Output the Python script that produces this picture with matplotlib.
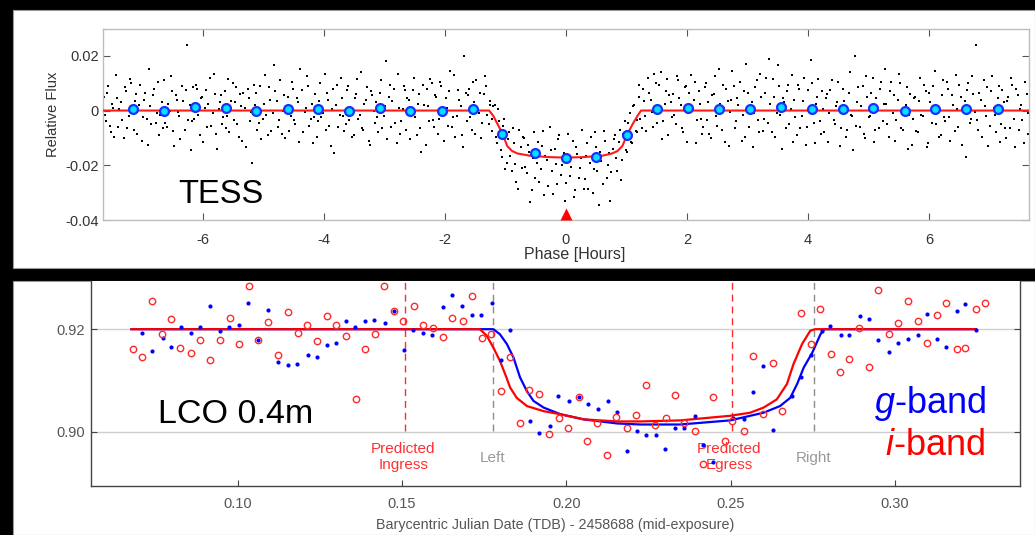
import matplotlib
matplotlib.use('Agg')
import matplotlib.pyplot as plt
import numpy as np
from matplotlib.patches import Rectangle

plt.rcParams['font.family'] = ['Liberation Sans', 'DejaVu Sans']
plt.rcParams['mathtext.fontset'] = 'custom'
plt.rcParams['mathtext.it'] = 'Liberation Sans:italic'
plt.rcParams['mathtext.rm'] = 'Liberation Sans'

# ---------------- TESS panel data ----------------
tess_phase = [
 -7.64,-7.60,-7.56,-7.52,-7.48,-7.44,-7.40,-7.35,-7.31,-7.27,-7.22,-7.18,
 -7.14,-7.10,-7.06,-7.01,-6.97,-6.93,-6.89,-6.85,-6.80,-6.76,-6.72,-6.68,
 -6.64,-6.60,-6.55,-6.51,-6.47,-6.43,-6.39,-6.34,-6.30,-6.26,-6.22,-6.18,
 -6.14,-6.10,-6.05,-6.01,-5.97,-5.93,-5.89,-5.84,-5.80,-5.76,-5.72,-5.68,
 -5.64,-5.60,-5.56,-5.51,-5.47,-5.43,-5.39,-5.35,-5.30,-5.26,-5.22,-5.18,
 -5.14,-5.10,-5.06,-5.01,-4.97,-4.93,-4.89,-4.84,-4.80,-4.76,-4.72,-4.68,
 -4.64,-4.60,-4.55,-4.51,-4.47,-4.43,-4.39,-4.34,-4.30,-4.26,-4.22,-4.18,
 -4.14,-4.10,-4.06,-4.01,-3.97,-3.93,-3.89,-3.85,-3.80,-3.76,-3.72,-3.68,
 -3.64,-3.60,-3.56,-3.51,-3.47,-3.43,-3.39,-3.35,-3.30,-3.26,-3.22,-3.18,
 -3.14,-3.10,-3.06,-3.01,-2.97,-2.93,-2.89,-2.84,-2.80,-2.76,-2.72,-2.68,
 -2.64,-2.60,-2.55,-2.51,-2.47,-2.43,-2.39,-2.34,-2.30,-2.26,-2.22,-2.18,
 -2.14,-2.10,-2.06,-2.01,-1.97,-1.93,-1.89,-1.85,-1.80,-1.76,-1.72,-1.68,
 -1.64,-1.60,-1.56,-1.52,-1.48,-1.44,-1.40,-1.36,-1.32,-1.28,-1.25,-1.22,
 -1.18,-1.14,-1.10,-1.06,-1.02,-0.98,-0.94,-0.90,-0.86,-0.82,-0.77,-0.73,
 -0.69,-0.65,-0.61,-0.57,-0.53,-0.48,-0.44,-0.40,-0.36,-0.31,-0.27,-0.23,
 -0.19,-0.15,-0.11,-0.06,-0.02,0.02,0.06,0.11,0.15,0.19,0.23,0.27,
 0.31,0.35,0.39,0.44,0.48,0.52,0.56,0.61,0.65,0.69,0.73,0.77,
 0.81,0.85,0.89,0.93,0.97,1.01,1.05,1.09,1.13,1.17,1.20,1.23,
 1.27,1.31,1.35,1.40,1.44,1.48,1.52,1.57,1.61,1.65,1.69,1.73,
 1.77,1.81,1.85,1.90,1.94,1.98,2.02,2.07,2.11,2.15,2.19,2.23,
 2.27,2.31,2.35,2.40,2.44,2.48,2.52,2.57,2.61,2.65,2.69,2.73,
 2.77,2.81,2.85,2.90,2.94,2.98,3.02,3.07,3.11,3.15,3.19,3.23,
 3.27,3.31,3.35,3.40,3.44,3.48,3.52,3.57,3.61,3.65,3.69,3.73,
 3.77,3.81,3.85,3.90,3.94,3.98,4.02,4.07,4.11,4.15,4.19,4.23,
 4.27,4.31,4.35,4.40,4.44,4.48,4.52,4.57,4.61,4.65,4.69,4.73,
 4.77,4.81,4.85,4.90,4.94,4.98,5.02,5.07,5.11,5.15,5.19,5.23,
 5.27,5.31,5.35,5.40,5.44,5.48,5.52,5.57,5.61,5.65,5.69,5.73,
 5.77,5.81,5.85,5.90,5.94,5.98,6.02,6.07,6.11,6.15,6.19,6.23,
 6.27,6.31,6.35,6.40,6.44,6.48,6.52,6.57,6.61,6.65,6.69,6.73,
 6.77,6.81,6.85,6.90,6.94,6.98,7.02,7.07,7.11,7.15,7.19,7.23,
 7.27,7.31,7.35,7.40,7.44,7.48,7.52,7.57,7.61,7.64]
# relative flux in parts per thousand
tess_flux_ppt = [
 5,-4,9,-8,1,13,-6,3,-10,7,-2,10,
 -7,6,2,-11,4,-3,15,-5,8,-1,-9,3,
 11,-6,0,7,-13,4,-2,9,-7,24,2,-4,
 -3,8,-9,5,1,-6,12,-1,6,-14,3,-5,
 7,-2,-8,10,3,-5,6,-11,1,8,-4,-19,
 2,-7,9,-3,13,-9,4,-1,7,-6,11,0,
 -10,5,-2,8,-5,3,15,-8,1,9,-3,-12,
 6,-4,10,-1,-7,4,-13,8,2,-6,12,-2,
 -5,9,1,-9,6,-3,14,-7,4,-11,7,0,
 3,-8,11,-2,18,5,-6,8,-12,1,-4,9,
 -7,4,-1,12,-9,6,-15,2,8,-4,10,-6,
 5,-3,9,-11,1,7,-6,13,-2,4,-9,20,
 -4,8,-7,3,11,-1,-10,6,9,-5,2,-3,
 2,-12,-4,-17,-3,-19,-8,-22,-12,-26,-7,-21,
 -10,-23,-15,-29,-8,-19,-26,-13,-31,-18,-6,-22,
 -14,-27,-9,-20,-33,-17,-24,-11,-29,-16,-21,-7,
 -25,-12,-19,-30,-8,-22,-15,-27,-11,-20,-33,-14,
 -9,-22,-7,-18,-4,-15,-1,-12,2,-8,5,-3,
 8,-2,12,4,-6,10,1,14,-4,7,-9,3,
 6,-5,11,2,-8,9,-1,13,4,-12,7,-3,
 -6,10,3,-10,6,-2,15,-7,1,8,-13,4,
 9,-4,2,-11,7,17,-6,3,-1,11,-8,5,
 -3,12,19,-8,5,-1,9,-14,3,7,-5,13,
 4,-9,8,-2,12,-6,1,10,-12,5,-4,7,
 -8,6,-1,11,-5,3,-13,8,1,-7,14,-2,
 20,3,-6,9,-10,5,-2,12,-7,1,8,-4,
 15,-5,7,-1,-11,4,10,-7,2,-14,6,-3,
 5,-8,12,-2,7,-12,3,9,-5,1,-9,11,
 -4,8,-11,2,13,-6,5,-1,-17,10,-3,6,
 24,-7,4,11,-2,-13,7,1,-8,9,-5,3,
 -10,5,12,-3,8,-7,2,-12,6,-1]

tess_phase_b = [
 -7.62,-7.58,-7.54,-7.50,-7.46,-7.42,-7.38,-7.33,-7.29,-7.25,-7.20,-7.16,
 -7.12,-7.08,-7.04,-6.99,-6.95,-6.91,-6.87,-6.83,-6.78,-6.74,-6.70,-6.66,
 -6.62,-6.58,-6.53,-6.49,-6.45,-6.41,-6.37,-6.32,-6.28,-6.24,-6.20,-6.16,
 -6.12,-6.08,-6.03,-5.99,-5.95,-5.91,-5.87,-5.82,-5.78,-5.74,-5.70,-5.66,
 -5.62,-5.58,-5.54,-5.49,-5.45,-5.41,-5.37,-5.33,-5.28,-5.24,-5.20,-5.16,
 -5.12,-5.08,-5.04,-4.99,-4.95,-4.91,-4.87,-4.82,-4.78,-4.74,-4.70,-4.66,
 -4.62,-4.58,-4.53,-4.49,-4.45,-4.41,-4.37,-4.32,-4.28,-4.24,-4.20,-4.16,
 -4.12,-4.08,-4.04,-3.99,-3.95,-3.91,-3.87,-3.83,-3.78,-3.74,-3.70,-3.66,
 -3.62,-3.58,-3.54,-3.49,-3.45,-3.41,-3.37,-3.33,-3.28,-3.24,-3.20,-3.16,
 -3.12,-3.08,-3.04,-2.99,-2.95,-2.91,-2.87,-2.82,-2.78,-2.74,-2.70,-2.66,
 -2.62,-2.58,-2.53,-2.49,-2.45,-2.41,-2.37,-2.32,-2.28,-2.24,-2.20,-2.16,
 -2.12,-2.08,-2.04,-1.99,-1.95,-1.91,-1.87,-1.83,-1.78,-1.74,-1.70,-1.66,
 -1.62,-1.58,-1.54,-1.50,-1.46,-1.42,-1.38,-1.34,-1.30,-1.26,-1.23,-1.20,
 -1.16,-1.12,-1.08,-1.04,-1.00,-0.96,-0.92,-0.88,-0.84,-0.80,-0.75,-0.71,
 -0.67,-0.63,-0.59,-0.55,-0.51,-0.46,-0.42,-0.38,-0.34,-0.29,-0.25,-0.21,
 -0.17,-0.13,-0.09,-0.04,0.00,0.04,0.08,0.13,0.17,0.21,0.25,0.29,
 0.33,0.37,0.41,0.46,0.50,0.54,0.58,0.63,0.67,0.71,0.75,0.79,
 0.83,0.87,0.91,0.95,0.99,1.03,1.07,1.11,1.15,1.18,1.21,1.25,
 1.29,1.33,1.37,1.42,1.46,1.50,1.54,1.59,1.63,1.67,1.71,1.75,
 1.79,1.83,1.87,1.92,1.96,2.00,2.04,2.09,2.13,2.17,2.21,2.25,
 2.29,2.33,2.37,2.42,2.46,2.50,2.54,2.59,2.63,2.67,2.71,2.75,
 2.79,2.83,2.87,2.92,2.96,3.00,3.04,3.09,3.13,3.17,3.21,3.25,
 3.29,3.33,3.37,3.42,3.46,3.50,3.54,3.59,3.63,3.67,3.71,3.75,
 3.79,3.83,3.87,3.92,3.96,4.00,4.04,4.09,4.13,4.17,4.21,4.25,
 4.29,4.33,4.37,4.42,4.46,4.50,4.54,4.59,4.63,4.67,4.71,4.75,
 4.79,4.83,4.87,4.92,4.96,5.00,5.04,5.09,5.13,5.17,5.21,5.25,
 5.29,5.33,5.37,5.42,5.46,5.50,5.54,5.59,5.63,5.67,5.71,5.75,
 5.79,5.83,5.87,5.92,5.96,6.00,6.04,6.09,6.13,6.17,6.21,6.25,
 6.29,6.33,6.37,6.42,6.46,6.50,6.54,6.59,6.63,6.67,6.71,6.75,
 6.79,6.83,6.87,6.92,6.96,7.00,7.04,7.09,7.13,7.17,7.21,7.25,
 7.29,7.33,7.37,7.42,7.46,7.50,7.54,7.59,7.63]
tess_flux_b_ppt = [
 -1.5,6.5,-5.5,2.5,-9.5,4.5,0.5,-3.5,8.5,-6.5,11.5,-0.5,
 3.5,-8.5,9.5,-2.5,6.5,-12.5,1.5,5.5,-4.5,10.5,-1.5,-6.5,
 -4.5,2.5,12.5,-7.5,5.5,-0.5,-10.5,3.5,7.5,-3.5,-14.5,8.5,
 9.5,-1.5,4.5,-11.5,7.5,2.5,-5.5,13.5,-8.5,0.5,5.5,-2.5,
 -6.5,11.5,3.5,-3.5,8.5,-9.5,1.5,6.5,-13.5,4.5,-0.5,9.5,
 6.5,-4.5,-10.5,2.5,-1.5,8.5,-7.5,16.5,3.5,-3.5,-8.5,5.5,
 1.5,-7.5,10.5,-3.5,4.5,-11.5,7.5,-0.5,12.5,-5.5,2.5,-2.5,
 -9.5,3.5,-2.5,13.5,6.5,-5.5,0.5,-15.5,9.5,-1.5,4.5,-7.5,
 7.5,-3.5,-9.5,4.5,11.5,-1.5,-6.5,2.5,8.5,-12.5,5.5,-4.5,
 -2.5,6.5,-6.5,1.5,-10.5,9.5,3.5,-4.5,13.5,-8.5,0.5,7.5,
 4.5,-10.5,7.5,-2.5,2.5,-6.5,9.5,-12.5,1.5,11.5,-3.5,5.5,
 -8.5,10.5,-0.5,4.5,-5.5,14.5,-2.5,-9.5,7.5,1.5,-13.5,6.5,
 5.5,-2.5,10.5,-8.5,0.5,6.5,-4.5,12.5,-1.5,3.5,-7.5,1.5,
 -9.5,0.5,-14.5,-5.5,-21.5,-10.5,-16.5,-6.5,-19.5,-28.5,-13.5,-9.5,
 -20.5,-12.5,-33.5,-17.5,-24.5,-11.5,-21.5,-7.5,-16.5,-27.5,-14.5,-30.5,
 -19.5,-10.5,-23.5,-15.5,-26.5,-8.5,-20.5,-31.5,-13.5,-24.5,-17.5,-28.5,
 -16.5,-28.5,-9.5,-21.5,-13.5,-34.5,-18.5,-7.5,-24.5,-15.5,-22.5,-10.5,
 -17.5,-11.5,-25.5,-8.5,-14.5,-4.5,-11.5,1.5,-7.5,-3.5,9.5,-6.5,
 3.5,-7.5,6.5,-0.5,13.5,-4.5,9.5,-10.5,2.5,11.5,5.5,-2.5,
 -1.5,12.5,4.5,-6.5,8.5,-11.5,6.5,0.5,10.5,-3.5,2.5,-8.5,
 8.5,-3.5,-8.5,5.5,12.5,-5.5,2.5,9.5,-11.5,3.5,-0.5,14.5,
 -6.5,4.5,10.5,-1.5,-9.5,6.5,1.5,-13.5,8.5,-3.5,13.5,-7.5,
 6.5,-4.5,2.5,11.5,-9.5,16.5,-1.5,4.5,-6.5,9.5,0.5,-11.5,
 -2.5,9.5,-6.5,3.5,-12.5,7.5,18.5,-4.5,2.5,11.5,-8.5,0.5,
 4.5,-11.5,7.5,-3.5,1.5,10.5,-6.5,3.5,-9.5,6.5,-1.5,-14.5,
 -5.5,8.5,1.5,-8.5,12.5,-2.5,6.5,-11.5,4.5,-6.5,10.5,2.5,
 2.5,-9.5,10.5,5.5,-3.5,13.5,-6.5,0.5,8.5,-1.5,-12.5,4.5,
 -7.5,3.5,-1.5,9.5,-13.5,6.5,-4.5,14.5,1.5,-9.5,5.5,-2.5,
 10.5,-2.5,5.5,-7.5,0.5,9.5,-12.5,3.5,7.5,-4.5,12.5,-0.5,
 -3.5,6.5,-9.5,1.5,8.5,-5.5,12.5,-1.5,4.5,-11.5,7.5,-6.5,
 3.5,-6.5,9.5,-13.5,5.5,0.5,-3.5,10.5,-8.5]

bin_phase = [-7.15,-6.65,-6.13,-5.62,-5.12,-4.60,-4.09,-3.59,-3.07,-2.57,-2.05,-1.54,
             -1.05,-0.52,0.0,0.50,1.00,1.51,2.02,2.53,3.04,3.56,4.06,4.57,5.08,5.60,
             6.10,6.61,7.13]
bin_flux = [0.0004,0.0,0.0013,0.0010,0.0,0.0007,0.0007,-0.0003,0.0010,0.0,0.0,0.0004,
            -0.0084,-0.0154,-0.0172,-0.0170,-0.0090,0.0007,0.0010,0.0004,0.0004,0.0012,
            0.0007,0.0004,0.0010,0.0,0.0005,0.0004,0.0005]

tess_model_x = [-7.65,-1.27,-1.20,-1.13,-1.05,-0.97,-0.89,-0.80,-0.60,-0.30,0.0,
                0.30,0.60,0.76,0.85,0.93,1.02,1.10,1.18,1.24,7.65]
tess_model_y = [0,0,-0.002,-0.005,-0.0084,-0.013,-0.0148,-0.0157,-0.0165,-0.0170,-0.0172,
                -0.0170,-0.0165,-0.0157,-0.0148,-0.013,-0.0084,-0.005,-0.002,0,0]

tess_xticks = [-6, -4, -2, 0, 2, 4, 6]
tess_yticks = [-0.04, -0.02, 0, 0.02]
tess_ytick_labels = ['-0.04', '-0.02', '0', '0.02']
mid_transit = 0.0

# ---------------- LCO panel data ----------------
i_time = [0.0682,0.0709,0.0740,0.0769,0.0798,0.0826,0.0858,0.0885,0.0917,0.0946,0.0976,
          0.1004,0.1035,0.1062,0.1093,0.1122,0.1152,0.1184,0.1211,0.1241,0.1271,0.1300,
          0.1329,0.1359,0.1386,0.1418,0.1445,0.1476,0.1503,0.1536,0.1563,0.1593,0.1625,
          0.1652,0.1685,0.1712,0.1742,0.1770,0.1800,0.1830,0.1859,0.1887,0.1917,0.1947,
          0.1978,0.2004,0.2037,0.2064,0.2092,0.2123,0.2152,0.2184,0.2212,0.2243,0.2271,
          0.2302,0.2330,0.2359,0.2390,0.2417,0.2447,0.2482,0.2505,0.2539,0.2569,0.2597,
          0.2628,0.2655,0.2714,0.2745,0.2772,0.2804,0.2832,0.2861,0.2891,0.2920,0.2948,
          0.2981,0.3010,0.3039,0.3070,0.3098,0.3128,0.3156,0.3188,0.3214,0.3246,0.3273]
i_flux = [0.9162,0.9145,0.9255,0.9190,0.9219,0.9164,0.9154,0.9179,0.9140,0.9179,0.9222,
          0.9171,0.9285,0.9179,0.9214,0.9149,0.9233,0.9193,0.9209,0.9177,0.9225,0.9209,
          0.9187,0.9063,0.9162,0.9190,0.9285,0.9235,0.9216,0.9245,0.9209,0.9202,0.9184,
          0.9222,0.9216,0.9265,0.9182,0.9190,0.9079,0.9145,0.9016,0.9081,0.9074,0.8995,
          0.9026,0.9008,0.9068,0.8981,0.9017,0.8955,0.9029,0.9008,0.9032,0.9092,0.9014,
          0.9027,0.9071,0.9017,0.9002,0.8936,0.9068,0.8982,0.9020,0.9002,0.9147,0.9035,
          0.9134,0.9040,0.9231,0.9171,0.9240,0.9151,0.9116,0.9142,0.9203,0.9127,0.9277,
          0.9190,0.9212,0.9255,0.9215,0.9174,0.9227,0.9251,0.9161,0.9164,0.9240,0.9252]

g_time = [0.0710,0.0738,0.0772,0.0797,0.0829,0.0857,0.0886,0.0915,0.0946,0.0974,0.1005,
          0.1033,0.1063,0.1091,0.1122,0.1154,0.1181,0.1213,0.1240,0.1272,0.1299,0.1330,
          0.1358,0.1388,0.1416,0.1447,0.1476,0.1505,0.1534,0.1564,0.1592,0.1624,0.1652,
          0.1683,0.1714,0.1740,0.1773,0.1800,0.1830,0.1889,0.1917,0.1949,0.1976,0.2007,
          0.2037,0.2065,0.2096,0.2126,0.2155,0.2184,0.2214,0.2242,0.2272,0.2301,0.2331,
          0.2359,0.2390,0.2417,0.2447,0.2506,0.2539,0.2568,0.2597,0.2628,0.2687,0.2714,
          0.2745,0.2779,0.2802,0.2834,0.2861,0.2892,0.2920,0.2948,0.2981,0.3010,0.3039,
          0.3070,0.3098,0.3128,0.3156,0.3188,0.3214,0.3246]
g_flux = [0.9193,0.9158,0.9183,0.9165,0.9204,0.9193,0.9205,0.9246,0.9197,0.9205,0.9208,
          0.9251,0.9179,0.9238,0.9136,0.9130,0.9133,0.9150,0.9146,0.9170,0.9173,0.9216,
          0.9205,0.9216,0.9218,0.9213,0.9235,0.9160,0.9198,0.9193,0.9189,0.9244,0.9266,
          0.9246,0.9228,0.9228,0.9251,0.9139,0.9199,0.9020,0.8997,0.9012,0.9070,0.9059,
          0.9068,0.9054,0.9044,0.9059,0.9039,0.8962,0.9001,0.8994,0.8994,0.8967,0.9007,
          0.9007,0.9031,0.8974,0.8941,0.9027,0.9024,0.9078,0.9128,0.9004,0.9069,0.9107,
          0.9149,0.9197,0.9206,0.9189,0.9189,0.9226,0.9220,0.9179,0.9155,0.9173,0.9180,
          0.9189,0.9229,0.9180,0.9165,0.9236,0.9249,0.9199]

i_model_x = [0.0677,0.1737,0.1758,0.1778,0.1798,0.1814,0.1829,0.1849,0.1880,0.1931,0.1982,
             0.2053,0.2155,0.2226,0.2346,0.2498,0.2559,0.2600,0.2640,0.2671,0.2691,0.2717,
             0.2742,0.2757,0.3246]
i_model_y = [0.92,0.92,0.9187,0.9164,0.9138,0.9112,0.9086,0.9066,0.9050,0.9040,0.9034,
             0.9024,0.9020,0.9020,0.9022,0.9031,0.9037,0.9047,0.9063,0.9093,0.9132,0.9171,
             0.9197,0.92,0.92]
g_model_x = [0.0677,0.1778,0.1798,0.1819,0.1839,0.1859,0.1880,0.1900,0.1931,0.1982,0.2053,
             0.2155,0.2226,0.2346,0.2498,0.2600,0.2650,0.2681,0.2702,0.2722,0.2748,0.2773,
             0.2785,0.3246]
g_model_y = [0.92,0.92,0.9190,0.9171,0.9145,0.9106,0.9079,0.9060,0.9047,0.9034,0.9024,
             0.9016,0.9014,0.9014,0.9022,0.9037,0.9050,0.9066,0.9093,0.9125,0.9154,0.9190,
             0.92,0.92]

pred_ingress, pred_egress = 0.151, 0.2503
left_edge, right_edge = 0.1778, 0.2752
lco_xticks = [0.10, 0.15, 0.20, 0.25, 0.30]
lco_xtick_labels = ['0.10', '0.15', '0.20', '0.25', '0.30']
lco_yticks = [0.90, 0.92]
lco_ytick_labels = ['0.90', '0.92']

# ---------------- figure ----------------
W, H = 1035, 535
fig = plt.figure(figsize=(W / 100, H / 100), dpi=100, facecolor='black')

def fx(x):
    return x / W

def fy(y):
    return 1 - y / H

def frect(x0, y0, x1, y1):
    return [fx(x0), fy(y1), fx(x1) - fx(x0), fy(y0) - fy(y1)]

# white panels
for (x0, y0, x1, y1) in [(13, 10, 1035, 268), (13, 281, 1035, 535)]:
    fig.patches.append(Rectangle((fx(x0), fy(y1)), fx(x1) - fx(x0), fy(y0) - fy(y1),
                                 transform=fig.transFigure, facecolor='white',
                                 edgecolor='#9a9a9a', lw=0.8, zorder=-5))

# ---- top (TESS) ----
ax1 = fig.add_axes(frect(103, 29, 1029, 220))
ax1.set_facecolor('white')
all_phase = list(tess_phase) + list(tess_phase_b)
all_flux = (np.array(list(tess_flux_ppt) + list(tess_flux_b_ppt))) * 1e-3
ax1.scatter(all_phase, all_flux, s=2.0, c='black', marker='s', linewidths=0, zorder=2)
ax1.plot(tess_model_x, tess_model_y, color='#ff1a1a', lw=1.5, zorder=3)
ax1.plot(bin_phase, bin_flux, 'o', ms=6.4, mfc='#00e0ff', mec='#1a30ff', mew=1.6, zorder=4)
ax1.plot([mid_transit], [-0.0377], marker='^', ms=8.5, color='#ff0000', mec='none',
         clip_on=False, zorder=5)
ax1.set_xlim(-7.65, 7.65)
ax1.set_ylim(-0.04, 0.0298)
ax1.set_xticks(tess_xticks)
ax1.set_xticklabels([str(t) for t in tess_xticks])
ax1.set_yticks(tess_yticks)
ax1.set_yticklabels(tess_ytick_labels)
ax1.tick_params(direction='in', top=True, right=True, length=5, width=0.8,
                color='#555555', labelsize=10.5, labelcolor='#333333')
ax1.tick_params(axis='x', pad=9)
ax1.tick_params(axis='y', pad=3)
for s in ax1.spines.values():
    s.set_color('#bdbdbd')
    s.set_linewidth(1.0)

fig.text(fx(575), fy(255), 'Phase [Hours]', ha='center', va='center',
         fontsize=11.5, color='#333333')
fig.text(fx(53), fy(114), 'Relative Flux', ha='center', va='center', rotation=90,
         fontsize=10.5, color='#333333')
fig.text(fx(178), fy(202.7), 'TESS', ha='left', va='baseline', fontsize=23.5, color='black')

# ---- bottom (LCO) ----
ax2 = fig.add_axes(frect(90.7, 281, 1020, 486))
ax2.set_facecolor('white')
ax2.set_xlim(0.0553, 0.338)
ax2.set_ylim(0.8894, 0.9294)
ax2.set_xticks(lco_xticks)
ax2.set_xticklabels(lco_xtick_labels)
ax2.set_yticks(lco_yticks)
ax2.set_yticklabels(lco_ytick_labels)
ax2.yaxis.grid(True, color='#cfcfcf', lw=1.0, zorder=0)
ax2.set_axisbelow(True)
ax2.tick_params(direction='in', right=True, top=False, length=4, width=0.8,
                color='#444444', labelsize=10.5, labelcolor='#555555')
ax2.tick_params(axis='x', pad=8)
ax2.tick_params(axis='y', pad=4)
ax2.spines['top'].set_visible(False)
for k in ['left', 'right', 'bottom']:
    ax2.spines[k].set_color('#444444')
    ax2.spines[k].set_linewidth(1.0)

ytop = 0.9294
ax2.vlines([pred_ingress, pred_egress], 0.9002, ytop, colors='#ff2a2a', lw=1.0,
           linestyles=(0, (5, 3.5)), zorder=1)
ax2.vlines([left_edge, right_edge], 0.9002, ytop, colors='#8c8c8c', lw=1.0,
           linestyles=(0, (5, 3.5)), zorder=1)
ax2.text(pred_ingress - 0.0006, 0.89505, 'Predicted\nIngress', ha='center', va='center',
         fontsize=11, color='#ff3030', linespacing=1.15, zorder=2)
ax2.text(pred_egress - 0.0007, 0.89505, 'Predicted\nEgress', ha='center', va='center',
         fontsize=11, color='#ff3030', linespacing=1.15, zorder=2)
ax2.text(left_edge - 0.0003, 0.8948, 'Left', ha='center', va='center', fontsize=11,
         color='#999999', zorder=2)
ax2.text(right_edge, 0.8948, 'Right', ha='center', va='center', fontsize=11,
         color='#999999', zorder=2)

ax2.plot(g_model_x, g_model_y, color='#0000ff', lw=1.6, zorder=3)
ax2.plot(i_model_x, i_model_y, color='#ff0000', lw=1.6, zorder=3)
ax2.plot(g_time, g_flux, 'o', ms=3.0, color='#0000ff', mec='none', zorder=4)
ax2.plot(i_time, i_flux, 'o', ms=4.6, mfc='none', mec='#ff2a2a', mew=1.0, zorder=4)

fig.text(fx(555), fy(525), 'Barycentric Julian Date (TDB) - 2458688 (mid-exposure)',
         ha='center', va='center', fontsize=10.3, color='#555555')
fig.text(fx(158), fy(423.3), 'LCO 0.4m', ha='left', va='baseline', fontsize=24.5,
         color='black')
fig.text(fx(986), fy(412.7), r'$\mathit{g}$-band', ha='right', va='baseline',
         fontsize=26, color='#0000ff')
fig.text(fx(985), fy(455), r'$\mathit{i}$-band', ha='right', va='baseline',
         fontsize=26, color='#ff0000')

fig.savefig('out.png', dpi=100, facecolor='black')
